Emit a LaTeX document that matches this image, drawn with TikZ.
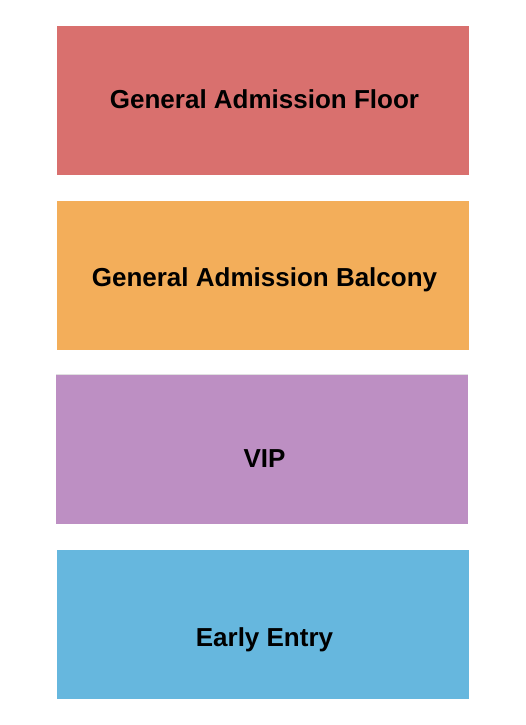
\documentclass[tikz,border=0pt]{standalone}
\usepackage{fontspec}
\setmainfont{Liberation Sans}
\definecolor{floorred}{HTML}{D9706E}
\definecolor{balconyorange}{HTML}{F3AE5A}
\definecolor{vippurple}{HTML}{BD8FC3}
\definecolor{entryblue}{HTML}{66B7DE}
\tikzset{
	section/.style={rectangle, draw=none, minimum width=412pt, minimum height=149pt, inner sep=0pt},
	sectionname/.style={font=\fontsize{26}{30}\selectfont\bfseries, anchor=base, inner sep=0pt}
}
\begin{document}
\begin{tikzpicture}[x=1pt, y=-1pt]
		\useasboundingbox (0,0) rectangle (525,725);
		\node[section, fill=floorred] (floor) at (263,100.5) {};
		\node[section, fill=balconyorange] (balcony) at (263,275.5) {};
		\draw[black!12, line width=1pt] (56,374.5) -- (468,374.5);
		\node[section, fill=vippurple] (vip) at (262,449.5) {};
		\node[section, fill=entryblue] (entry) at (263,624.5) {};
		
		\node[sectionname] (floorname) at (264.5,108) {General Admission Floor};
		\node[sectionname] (balconyname) at (264.5,286.5) {General Admission Balcony};
		\node[sectionname] (vipname) at (264.5,467) {VIP};
		\node[sectionname] (entryname) at (264.5,646) {Early Entry};
	\end{tikzpicture}
\end{document}
